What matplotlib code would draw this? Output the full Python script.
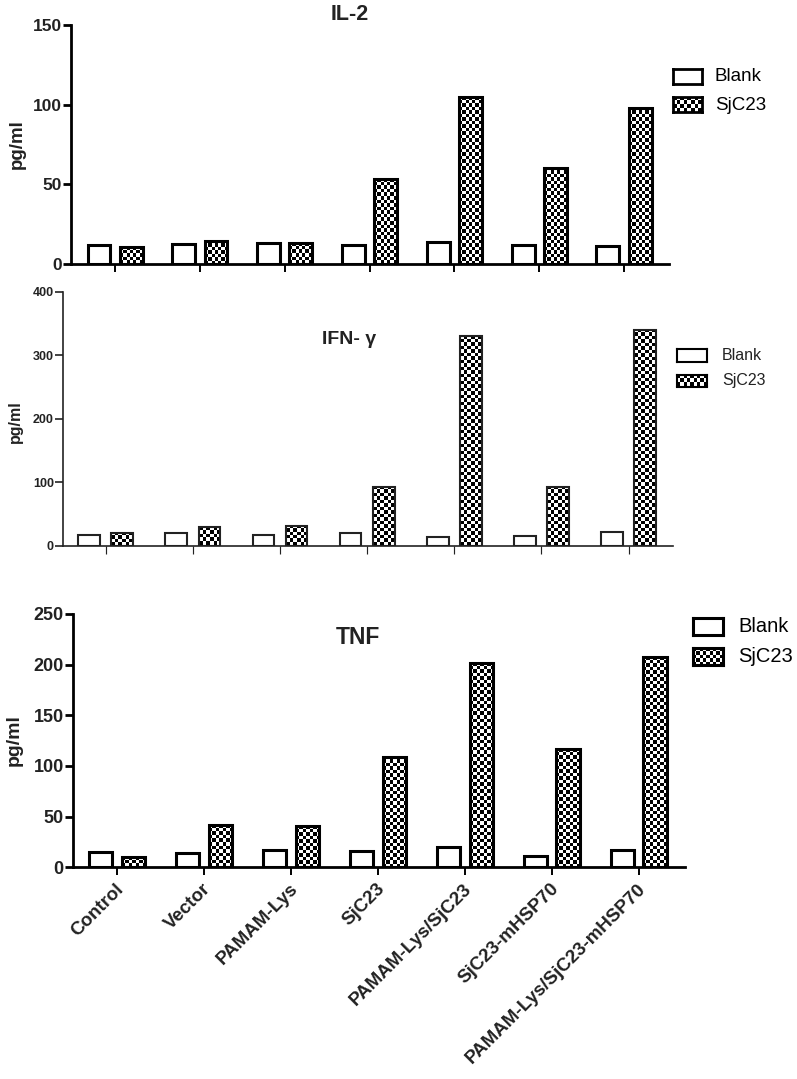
import numpy as np
import matplotlib.pyplot as plt
from matplotlib.transforms import ScaledTranslation

W, H = 797, 1079
DPI = 100

plt.rcParams['font.family'] = ['Liberation Sans', 'DejaVu Sans']

groups = ["Control", "Vector", "PAMAM-Lys", "SjC23", "PAMAM-Lys/SjC23",
          "SjC23-mHSP70", "PAMAM-Lys/SjC23-mHSP70"]
series = ["Blank", "SjC23"]

il2_blank = [12.0, 12.7, 13.4, 12.1, 13.6, 11.7, 11.1]
il2_sjc23 = [10.7, 14.6, 13.2, 53.4, 105.0, 60.5, 98.1]
ifn_blank = [16.5, 20.0, 16.5, 19.2, 13.9, 15.0, 21.3]
ifn_sjc23 = [20.2, 29.7, 31.2, 92.7, 330.0, 91.7, 339.6]
tnf_blank = [15.1, 13.8, 17.1, 16.1, 19.7, 11.2, 17.1]
tnf_sjc23 = [10.5, 41.8, 40.8, 109.2, 202.0, 116.8, 208.0]

il2_ticks = [0, 50, 100, 150]
ifn_ticks = [0, 100, 200, 300, 400]
tnf_ticks = [0, 50, 100, 150, 200, 250]

CELL = 3.5  # checker cell, pixels


def fig_rect(l, r, t, b):
    return [l / W, 1 - b / H, (r - l) / W, (b - t) / H]


def checker_fill(ax, patch, pxx, pxy):
    x0, y0 = patch.get_x(), patch.get_y()
    w, h = patch.get_width(), patch.get_height()
    nc = max(1, int(round(w * pxx / CELL)))
    nr = max(1, int(round(h * pxy / CELL)))
    arr = np.add.outer(np.arange(nr), np.arange(nc)) % 2
    im = ax.imshow(arr, extent=(x0, x0 + w, y0, y0 + h), origin='lower',
                   cmap='gray', vmin=0, vmax=1, interpolation='nearest',
                   aspect='auto', zorder=1)
    im.set_clip_path(patch)


def legend_box(fig, l, t, w, h, lw, checker):
    lax = fig.add_axes(fig_rect(l, l + w, t, t + h))
    if checker:
        nc = int(round(w / CELL))
        nr = int(round(h / CELL))
        arr = np.add.outer(np.arange(nr), np.arange(nc)) % 2
        lax.imshow(arr, cmap='gray', vmin=0, vmax=1, interpolation='nearest',
                   aspect='auto')
    lax.set_xticks([])
    lax.set_yticks([])
    for s in lax.spines.values():
        s.set_linewidth(lw)
        s.set_color('black')


def panel(fig, box, xlim, blank, sjc, ymax, ticks, width, offset,
          edge_lw, spine_lw, color, tick_fs):
    l, r, t, b = box
    ax = fig.add_axes(fig_rect(l, r, t, b))
    x = np.arange(len(groups))
    ax.bar(x - offset, blank, width, facecolor='white', edgecolor=color,
           linewidth=edge_lw, zorder=2)
    bars = ax.bar(x + offset, sjc, width, facecolor='none', edgecolor=color,
                  linewidth=edge_lw, zorder=2)
    pxx = (r - l) / (xlim[1] - xlim[0])
    pxy = (b - t) / ymax
    for p in bars:
        checker_fill(ax, p, pxx, pxy)
    ax.set_xlim(*xlim)
    ax.set_ylim(0, ymax)
    ax.set_yticks(ticks)
    ax.set_xticks(x)
    for s in ['top', 'right']:
        ax.spines[s].set_visible(False)
    for s in ['left', 'bottom']:
        ax.spines[s].set_linewidth(spine_lw)
        ax.spines[s].set_color(color)
    ax.tick_params(axis='y', length=5.5, width=spine_lw, color=color,
                   labelsize=tick_fs, pad=1)
    ax.tick_params(axis='x', length=6, width=spine_lw * 0.7, color=color)
    for lab in ax.get_yticklabels():
        lab.set_fontweight('bold')
        lab.set_color('#222222')
    ax.set_xticklabels([])
    return ax


fig = plt.figure(figsize=(W / DPI, H / DPI), dpi=DPI)

# IL-2
panel(fig, (71, 669, 25, 264), (-0.52, 6.53), il2_blank, il2_sjc23, 150,
      il2_ticks, 0.27, 0.19, 2.2, 2.0, 'black', 12.5)
fig.text(350 / W, 1 - 14.5 / H, "IL-2", ha='center', va='center',
         fontsize=15.5, fontweight='bold', color='#222222')
fig.text(17 / W, 1 - 144 / H, "pg/ml", rotation=90, ha='center', va='center',
         fontsize=13.5, fontweight='bold', color='#222222')
legend_box(fig, 673, 69, 29, 15, 2.0, False)
legend_box(fig, 673, 97, 29, 15, 2.0, True)
fig.text(715 / W, 1 - 76.5 / H, series[0], va='center', fontsize=13.5)
fig.text(715 / W, 1 - 105 / H, series[1], va='center', fontsize=13.5)

# IFN-gamma
panel(fig, (63, 673, 291.7, 545.5), (-0.49, 6.51), ifn_blank, ifn_sjc23, 400,
      ifn_ticks, 0.25, 0.19, 1.5, 1.2, '#222222', 9)
fig.text(349 / W, 1 - 340 / H, "IFN- γ", ha='center', va='center',
         fontsize=14, fontweight='bold', color='#222222')
fig.text(15 / W, 1 - 422 / H, "pg/ml", rotation=90, ha='center', va='center',
         fontsize=11.5, fontweight='bold', color='#222222')
legend_box(fig, 677, 349, 30, 12.5, 1.5, False)
legend_box(fig, 677, 375, 30, 11.5, 1.5, True)
fig.text(722 / W, 1 - 355 / H, series[0], va='center', fontsize=11.5,
         color='#222222')
fig.text(722 / W, 1 - 380.5 / H, series[1], va='center', fontsize=11.5,
         color='#222222')

# TNF
ax3 = panel(fig, (72.7, 685, 614, 867.3), (-0.51, 6.53), tnf_blank, tnf_sjc23,
            250, tnf_ticks, 0.265, 0.185, 2.2, 2.0, 'black', 13)
ax3.set_xticklabels(groups, rotation=45, ha='right', va='top',
                    rotation_mode='anchor', fontsize=13.5,
                    fontweight='bold', color='#222222')
shift = ScaledTranslation(-2 / DPI, 0, fig.dpi_scale_trans)
for lab in ax3.get_xticklabels():
    lab.set_transform(lab.get_transform() + shift)
fig.text(358 / W, 1 - 638 / H, "TNF", ha='center', va='center',
         fontsize=16.5, fontweight='bold', color='#222222')
fig.text(14 / W, 1 - 740 / H, "pg/ml", rotation=90, ha='center', va='center',
         fontsize=14, fontweight='bold', color='#222222')
legend_box(fig, 693, 618, 30, 17, 2.2, False)
legend_box(fig, 693, 648, 30, 17, 2.2, True)
fig.text(738 / W, 1 - 626.5 / H, series[0], va='center', fontsize=14.5)
fig.text(738 / W, 1 - 656.5 / H, series[1], va='center', fontsize=14.5)

fig.savefig("out.png", dpi=DPI)
